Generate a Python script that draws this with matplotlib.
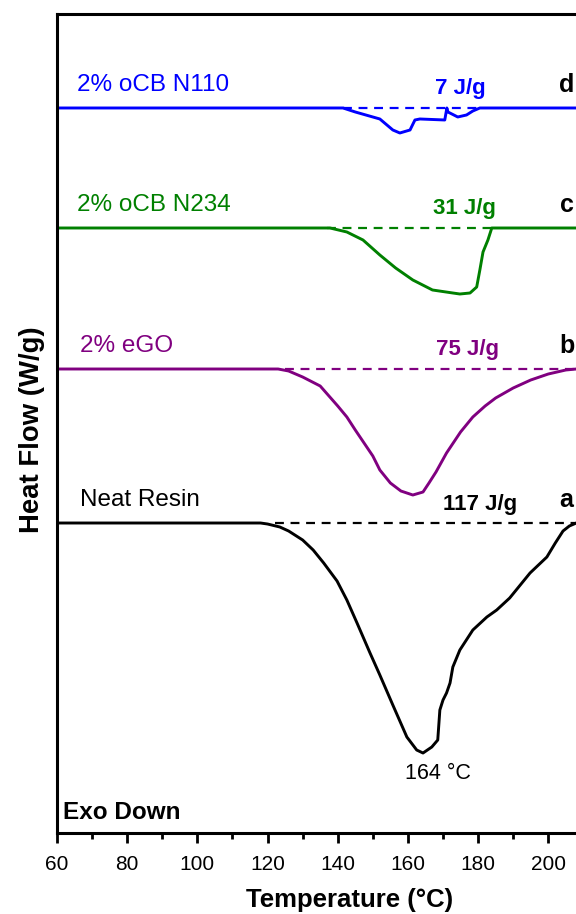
"""
DSC curves - heat flow vs temperature, stacked traces
"""

import matplotlib
matplotlib.use("Agg")
import matplotlib.pyplot as plt
from matplotlib.ticker import MultipleLocator

plt.rcParams['font.family'] = ['Liberation Sans', 'DejaVu Sans']

# =============================================================================
# DATA (heat flow in W/g, relative to each trace's own baseline)
# =============================================================================
labels = ['Neat Resin', '2% eGO', '2% oCB N234', '2% oCB N110']
letters = ['a', 'b', 'c', 'd']
enthalpy = ['117 J/g', '75 J/g', '31 J/g', '7 J/g']
offsets = [3.10, 4.64, 6.05, 7.25]
colors = ['black', '#800080', '#008000', '#0000FF']

T_a = [60, 112, 118, 120, 123.5, 126, 130, 133, 136, 139.8, 142.6, 145.5, 149.2, 152, 155.7,
       159.7, 162.5, 164.3, 166.8, 168.5, 169.1, 170, 171, 172, 172.8, 174.8, 178.5, 182.5,
       185.3, 189, 194.8, 199.6, 202, 204.2, 206, 208]
hf_a = [0, 0, 0, -0.01, -0.04, -0.08, -0.17, -0.27, -0.40, -0.58, -0.77, -1.00, -1.30, -1.52,
        -1.82, -2.14, -2.27, -2.30, -2.24, -2.17, -1.87, -1.77, -1.70, -1.60, -1.44, -1.27,
        -1.07, -0.94, -0.87, -0.75, -0.50, -0.34, -0.20, -0.08, -0.03, 0]

T_b = [60, 123, 126, 130, 135, 140, 142.6, 145, 150, 152, 155, 158, 161.4, 164.3, 166,
       168, 171, 175, 178.5, 182, 185, 190, 195, 200, 205, 208]
hf_b = [0, 0, -0.02, -0.08, -0.17, -0.37, -0.48, -0.61, -0.87, -1.01, -1.14, -1.22, -1.26,
        -1.23, -1.14, -1.03, -0.84, -0.63, -0.48, -0.37, -0.29, -0.19, -0.11, -0.05, -0.01, 0]

T_c = [60, 137.8, 142.6, 147.2, 152, 156.5, 161.4, 167, 172.8, 174.8, 177.7, 179.6, 180.5,
       181.4, 182.8, 183.9, 208]
hf_c = [0, 0, -0.04, -0.12, -0.27, -0.40, -0.52, -0.62, -0.65, -0.66, -0.65, -0.59, -0.42,
        -0.24, -0.12, 0, 0]

T_d = [60, 141.5, 145, 152, 155.7, 157.7, 160.6, 162, 163.4, 170.5, 171.1, 171.4, 174.2,
       176.7, 178.5, 180.5, 208]
hf_d = [0, 0, -0.04, -0.11, -0.22, -0.25, -0.22, -0.12, -0.11, -0.12, 0, -0.04, -0.09,
        -0.07, -0.03, 0, 0]

# integration baseline span for each trace
dash_start = [122, 125, 137, 141.5]
dash_end = [208, 208, 184, 180.5]

peak_T = 164.3
peak_label = '164 °C'

curves = [(T_a, hf_a), (T_b, hf_b), (T_c, hf_c), (T_d, hf_d)]

# =============================================================================
# PLOT
# =============================================================================
fig = plt.figure(figsize=(5.76, 9.14), dpi=100)
ax = fig.add_axes([0.099, 0.0886, 0.901, 0.8961])

for i, (T, hf) in enumerate(curves):
    off = offsets[i]
    ax.plot([dash_start[i], dash_end[i]], [off, off], color=colors[i], lw=1.6,
            dashes=(4, 3))
    ax.plot(T, [off + v for v in hf], color=colors[i], lw=2.1)

    # sample name on the left, enthalpy above the dip, letter at the right
    ax.text(66.5 if i < 2 else 65.7, off + 0.23, labels[i], color=colors[i],
            fontsize=17.5, ha='left', va='center')
    ax.text([180.5, 177, 176.2, 174.8][i], off + 0.19, enthalpy[i], color=colors[i],
            fontsize=16, fontweight='bold', ha='center', va='center')
    ax.text(205.2, off + 0.23, letters[i], color='black', fontsize=18,
            fontweight='bold', ha='center', va='center')

ax.text(peak_T + 4.2, offsets[0] + min(hf_a) - 0.20, peak_label, fontsize=15.5,
        ha='center', va='center')
ax.text(61.7, 0.21, 'Exo Down', fontsize=17.5, fontweight='bold', ha='left', va='center')

ax.set_xlim(60, 207.9)
ax.set_ylim(0, 8.19)
ax.xaxis.set_major_locator(MultipleLocator(20))
ax.xaxis.set_minor_locator(MultipleLocator(10))
ax.set_yticks([])
ax.tick_params(axis='x', which='major', direction='out', length=7, width=2,
               labelsize=15, pad=9)
ax.tick_params(axis='x', which='minor', direction='out', length=4, width=2)

for side in ['left', 'bottom', 'top']:
    ax.spines[side].set_linewidth(2.2)
ax.spines['right'].set_visible(False)

ax.set_xlabel('Temperature (°C)', fontsize=18.5, fontweight='bold', labelpad=10)
ax.set_ylabel('Heat Flow (W/g)', fontsize=19.8, fontweight='bold', labelpad=9)
# the original axis runs on past the crop, so its labels sit off-centre
ax.xaxis.label.set_x(0.5645)
ax.yaxis.label.set_y(0.492)

fig.savefig('out.png', dpi=100)
